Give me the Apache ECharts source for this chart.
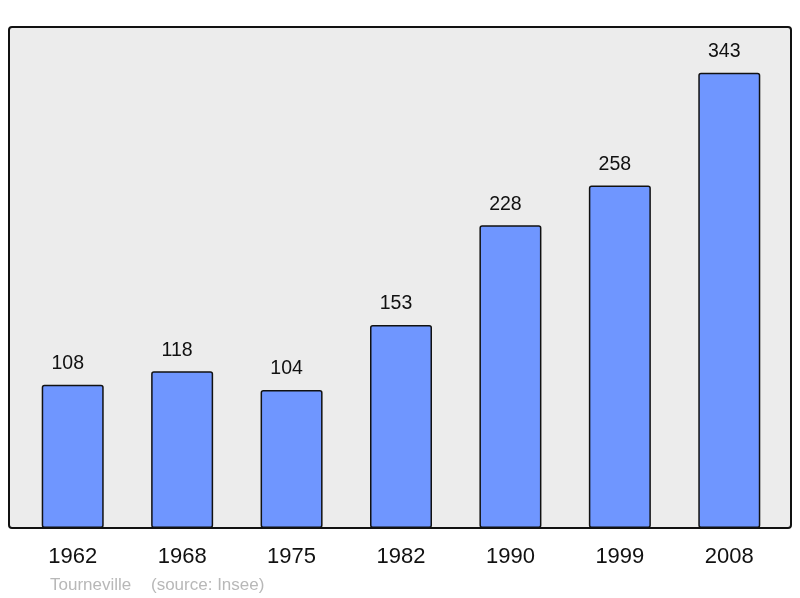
<!DOCTYPE html>
<html>
<head>
<meta charset="utf-8">
<script src="https://cdn.jsdelivr.net/npm/echarts@6/dist/echarts.min.js"></script>
<style>html,body{margin:0;padding:0;background:#fff}#c{width:800px;height:598px}</style>
</head>
<body>
<div id="c"></div>
<script>
var years = ['1962','1968','1975','1982','1990','1999','2008'];
var population = [108,118,104,153,228,258,343];
var place = 'Tourneville';
var source = '(source: Insee)';

var chart = echarts.init(document.getElementById('c'), null, {renderer:'canvas'});
chart.setOption({
  animation:false,
  backgroundColor:'#ffffff',
  textStyle:{fontFamily:'Liberation Sans'},
  graphic:[
    {type:'rect', z:-10, shape:{x:9,y:27,width:782,height:501,r:3},
     style:{fill:'#ececec', stroke:'#111', lineWidth:2}},
    {type:'text', left:50, top:577, style:{text:place, fill:'#b8b8b8', font:'17px "Liberation Sans"'}},
    {type:'text', left:151, top:577, style:{text:source, fill:'#b8b8b8', font:'17px "Liberation Sans"'}}
  ],
  grid:{left:18, right:16, top:27, bottom:70, show:false},
  xAxis:{type:'category', data:years,
    axisLine:{show:false}, axisTick:{show:false},
    axisLabel:{color:'#111', fontSize:22, margin:18, fontFamily:'Liberation Sans'}},
  yAxis:{type:'value', min:0, max:377.4, show:false, splitLine:{show:false}},
  series:[{type:'bar', data:population, barWidth:62,
    itemStyle:{color:'#6f96ff', borderColor:'#111', borderWidth:1.5, borderRadius:2},
    label:{show:true, position:'top', distance:11, offset:[-5,0], color:'#111', fontSize:19.5, fontFamily:'Liberation Sans'}}]
});
</script>
</body>
</html>
